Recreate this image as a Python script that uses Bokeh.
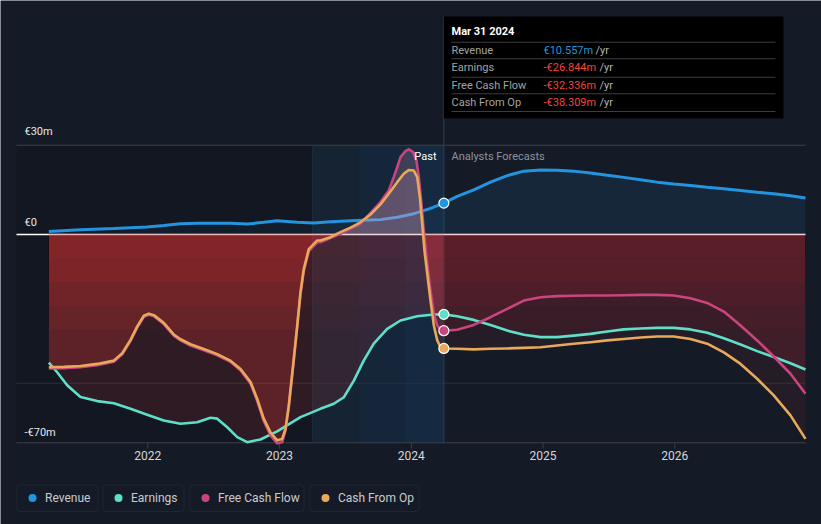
import numpy as np
from bokeh.plotting import figure
from bokeh.models import Label, BoxAnnotation
from bokeh.embed import file_html
from bokeh.resources import INLINE

# ---------------- data (decimal years, EUR millions) ----------------
rev_t = [2021.249, 2021.489, 2021.742, 2021.995, 2022.121, 2022.248, 2022.375, 2022.627,
         2022.754, 2022.880, 2022.982, 2023.134, 2023.260, 2023.386, 2023.589, 2023.766,
         2023.893, 2024.019, 2024.146, 2024.247,
         2024.348, 2024.474, 2024.601, 2024.728, 2024.854, 2024.981, 2025.107, 2025.233,
         2025.360, 2025.487, 2025.613, 2025.740, 2025.866, 2025.992, 2026.119, 2026.246,
         2026.372, 2026.499, 2026.625, 2026.751, 2026.878, 2026.992]
rev_v = [1.0, 1.6, 2.0, 2.5, 3.0, 3.6, 3.8, 3.8, 3.5, 4.1, 4.6, 4.1, 3.9, 4.3, 4.7, 5.0,
         5.8, 7.0, 8.8, 10.557,
         12.8, 15.0, 17.6, 19.8, 21.3, 21.7, 21.6, 21.3, 20.7, 19.9, 19.2, 18.4, 17.6, 17.0,
         16.5, 15.9, 15.4, 14.8, 14.2, 13.7, 13.0, 12.3]

earn_t = [2021.249, 2021.312, 2021.388, 2021.489, 2021.616, 2021.742, 2021.869, 2021.995,
          2022.121, 2022.248, 2022.375, 2022.476, 2022.527, 2022.603, 2022.679, 2022.754,
          2022.855, 2022.982, 2023.159, 2023.310, 2023.412, 2023.488, 2023.564, 2023.639,
          2023.715, 2023.817, 2023.918, 2024.045, 2024.171, 2024.247,
          2024.348, 2024.474, 2024.601, 2024.728, 2024.854, 2024.981, 2025.107, 2025.233,
          2025.360, 2025.487, 2025.613, 2025.740, 2025.866, 2025.992, 2026.119, 2026.246,
          2026.372, 2026.499, 2026.625, 2026.751, 2026.878, 2026.992]
earn_v = [-43.1, -46.3, -50.7, -54.6, -56.0, -56.7, -58.6, -60.6, -62.5, -63.6, -63.1, -61.6,
          -61.9, -64.8, -68.1, -69.8, -68.9, -66.2, -61.4, -58.6, -56.9, -54.7, -49.1, -42.4,
          -36.7, -31.7, -28.9, -27.5, -26.9, -26.844,
          -27.5, -28.7, -30.4, -32.3, -33.7, -34.5, -34.5, -34.0, -33.4, -32.6, -31.9, -31.6,
          -31.4, -31.4, -31.9, -33.0, -34.9, -37.0, -39.2, -41.2, -43.3, -45.4]

fcf_t = [2021.249, 2021.362, 2021.489, 2021.616, 2021.742, 2021.806, 2021.869, 2021.920,
         2021.970, 2022.008, 2022.046, 2022.121, 2022.197, 2022.248, 2022.324, 2022.425,
         2022.527, 2022.627, 2022.704, 2022.780, 2022.830, 2022.880, 2022.931, 2022.982,
         2023.020, 2023.045, 2023.070, 2023.108, 2023.134, 2023.159, 2023.184, 2023.222,
         2023.286, 2023.310, 2023.462, 2023.614, 2023.766, 2023.829, 2023.867, 2023.893,
         2023.918, 2023.956, 2023.981, 2024.014, 2024.039, 2024.057, 2024.075, 2024.095,
         2024.121, 2024.146, 2024.171, 2024.197, 2024.222, 2024.247,
         2024.348, 2024.474, 2024.601, 2024.728, 2024.854, 2024.981, 2025.107, 2025.233,
         2025.360, 2025.487, 2025.613, 2025.740, 2025.866, 2025.992, 2026.119, 2026.246,
         2026.372, 2026.499, 2026.625, 2026.751, 2026.878, 2026.992]
fcf_v = [-45.0, -44.9, -44.6, -43.9, -42.8, -40.3, -35.8, -31.3, -27.7, -27.0, -27.5, -30.1,
         -34.0, -35.6, -37.3, -38.9, -40.6, -42.8, -45.7, -50.2, -55.9, -62.7, -67.5, -70.2,
         -69.8, -66.0, -58.2, -42.5, -31.3, -20.0, -12.3, -5.6, -2.6, -2.6, 0.2, 3.6, 10.9,
         14.8, 19.3, 22.6, 26.0, 28.0, 28.6, 27.7, 24.9, 19.3, 11.4, 1.3, -9.8, -18.8, -26.7,
         -30.6, -32.0, -32.336,
         -32.0, -30.4, -27.8, -25.0, -22.2, -21.1, -20.7, -20.6, -20.5, -20.5, -20.4, -20.3,
         -20.3, -20.5, -21.4, -23.0, -25.9, -30.6, -35.6, -41.0, -46.8, -53.5]

cfo_t = [2021.249, 2021.362, 2021.489, 2021.616, 2021.742, 2021.806, 2021.869, 2021.920,
         2021.970, 2022.008, 2022.046, 2022.121, 2022.197, 2022.248, 2022.324, 2022.425,
         2022.527, 2022.627, 2022.704, 2022.780, 2022.830, 2022.880, 2022.931, 2022.982,
         2023.020, 2023.045, 2023.070, 2023.108, 2023.134, 2023.159, 2023.184, 2023.222,
         2023.286, 2023.310, 2023.386, 2023.462, 2023.538, 2023.614, 2023.690, 2023.766,
         2023.829, 2023.893, 2023.943, 2023.981, 2024.019, 2024.045, 2024.065, 2024.083,
         2024.100, 2024.121, 2024.146, 2024.171, 2024.197, 2024.222, 2024.247,
         2024.348, 2024.474, 2024.601, 2024.728, 2024.854, 2024.981, 2025.107, 2025.233,
         2025.360, 2025.487, 2025.613, 2025.740, 2025.866, 2025.992, 2026.119, 2026.246,
         2026.372, 2026.499, 2026.625, 2026.751, 2026.878, 2026.992]
cfo_v = [-44.6, -44.5, -44.2, -43.5, -42.4, -39.9, -35.4, -30.9, -27.3, -26.6, -27.1, -29.7,
         -33.6, -35.2, -36.9, -38.5, -40.2, -42.4, -45.2, -49.6, -55.2, -61.9, -66.5, -69.2,
         -68.7, -65.3, -57.5, -41.8, -30.6, -19.4, -11.6, -4.9, -2.0, -2.0, -0.9, 0.8, 2.3,
         4.1, 6.7, 10.1, 13.7, 17.6, 20.4, 21.7, 21.5, 19.3, 12.5, 3.6, -5.4, -13.2, -22.2,
         -30.6, -35.6, -37.9, -38.309,
         -38.4, -38.6, -38.4, -38.3, -38.1, -37.9, -37.3, -36.7, -36.2, -35.6, -35.1, -34.6,
         -34.3, -34.3, -35.1, -36.7, -39.6, -43.5, -48.5, -54.1, -60.8, -68.7]

NOW = 2024.247
HIGHLIGHT_START = 2023.25
year_ticks = [2022, 2023, 2024, 2025, 2026]
year_labels = ["2022", "2023", "2024", "2025", "2026"]
y_ticks = [30, 0, -70]
y_labels = ["€30m", "€0", "-€70m"]

tip_title = "Mar 31 2024"
tip_rows = ["Revenue", "Earnings", "Free Cash Flow", "Cash From Op"]
tip_vals = ["€10.557m", "-€26.844m", "-€32.336m", "-€38.309m"]
legend_names = ["Revenue", "Earnings", "Free Cash Flow", "Cash From Op"]

# ---------------- style ----------------
BG = "#151b26"
REV = "#2394df"
EARN = "#5ee0c8"
FCF = "#c9457f"
CFO = "#e8a95b"
RED = "#e13c3c"
POS = "#e8a0c0"
FONT = "Roboto"

W, H = 821, 524
# page pixel -> data helpers
def X(px):
    return 2024 + (px - 410.8) / 131.75

def Y(py):
    return (234 - py) / 2.975

p = figure(width=W, height=H, x_range=(X(0), X(W)), y_range=(Y(H), Y(0)),
           output_backend="svg", toolbar_location=None, min_border=0)
p.axis.visible = False
p.grid.visible = False
p.outline_line_color = None
p.background_fill_color = BG
p.border_fill_color = BG

# background regions
TOP = 30
p.add_layout(BoxAnnotation(left=X(16), right=HIGHLIGHT_START, top=TOP, bottom=-70,
                           fill_color="black", fill_alpha=0.12, line_color=None, level="underlay"))
for lft, a in [(HIGHLIGHT_START, 0.10), (HIGHLIGHT_START + 0.35, 0.06), (HIGHLIGHT_START + 0.7, 0.06)]:
    p.add_layout(BoxAnnotation(left=lft, right=NOW, top=TOP, bottom=-70,
                               fill_color="#1f6aa5", fill_alpha=a, line_color=None, level="underlay"))

# grid lines
p.segment(x0=[X(16)], y0=[30], x1=[X(805)], y1=[30], line_color="#3b414b", line_width=1)
p.segment(x0=[X(16)], y0=[-50], x1=[X(805)], y1=[-50], line_color="#2a3039", line_width=1)
p.segment(x0=[X(16)], y0=[-70], x1=[X(805)], y1=[-70], line_color="#3b414b", line_width=1)
p.segment(x0=[HIGHLIGHT_START], y0=[TOP], x1=[HIGHLIGHT_START], y1=[-70], line_color="#1d2a39", line_width=1)
p.segment(x0=[NOW], y0=[Y(16)], x1=[NOW], y1=[-70], line_color="#2a4057", line_width=1)
for t in year_ticks:
    p.segment(x0=[t], y0=[-70], x1=[t], y1=[Y(448)], line_color="#3b414b", line_width=1)

def split(t, v):
    t = np.asarray(t, float); v = np.asarray(v, float)
    past = t <= NOW + 1e-9
    fut = t >= NOW - 1e-9
    return (t[past], v[past]), (t[fut], v[fut])

# revenue area + line (drawn before the other fills)
rp, rf = split(rev_t, rev_v)
p.varea(x=rp[0], y1=0, y2=rp[1], fill_color=REV, fill_alpha=0.06)
p.varea(x=rf[0], y1=0, y2=rf[1], fill_color=REV, fill_alpha=0.10)
p.line(rev_t, rev_v, line_color=REV, line_width=3)

# zero line
p.segment(x0=[X(16)], y0=[0], x1=[X(805)], y1=[0], line_color="white", line_width=1.6)

def fills(t, v, base, step):
    vn = np.minimum(v, 0)
    p.varea(x=t, y1=vn, y2=0, fill_color=RED, fill_alpha=base)
    for d in [8, 16, 24, 32]:
        p.varea(x=t, y1=np.maximum(vn, -d), y2=0, fill_color=RED, fill_alpha=step)
    vp = np.maximum(v, 0)
    if vp.max() > 0:
        p.varea(x=t, y1=0, y2=vp, fill_color=POS, fill_alpha=0.2)

for tt, vv in [(earn_t, earn_v), (fcf_t, fcf_v), (cfo_t, cfo_v)]:
    pa, fu = split(tt, vv)
    fills(pa[0], pa[1], 0.14, 0.03)
    fills(fu[0], fu[1], 0.075, 0.015)

p.line(earn_t, earn_v, line_color=EARN, line_width=2.6, line_join="round")
p.line(fcf_t, fcf_v, line_color=FCF, line_width=2.6, line_join="round")
p.line(cfo_t, cfo_v, line_color=CFO, line_width=2.6, line_join="round")

# markers at the last reported point
for tt, vv, c in [(rev_t, rev_v, REV), (earn_t, earn_v, EARN), (fcf_t, fcf_v, FCF), (cfo_t, cfo_v, CFO)]:
    i = int(np.argmin(np.abs(np.asarray(tt) - NOW)))
    p.scatter([tt[i]], [vv[i]], size=10, fill_color=c, line_color="white", line_width=1.2)

# y labels
for v, s in zip(y_ticks, y_labels):
    off = {30: 131, 0: 222, -70: 432}[v]
    p.add_layout(Label(x=X(24), y=Y(off), text=s, text_font=FONT, text_font_size="11px",
                       text_color="#e6e6e6", text_baseline="middle"))

# year labels
for t, s in zip(year_ticks, year_labels):
    p.add_layout(Label(x=t, y=Y(455), text=s, text_font=FONT, text_font_size="12px",
                       text_color="#d6d6d6", text_baseline="middle", text_align="center"))

# Past / Analysts Forecasts
p.add_layout(Label(x=X(436), y=Y(156), text="Past", text_font=FONT, text_font_size="11px",
                   text_color="#ffffff", text_baseline="middle", text_align="right"))
p.add_layout(Label(x=X(451), y=Y(156), text="Analysts Forecasts", text_font=FONT, text_font_size="11px",
                   text_color="#8d929a", text_baseline="middle"))

# tooltip box
p.add_layout(BoxAnnotation(left=NOW, right=X(783), top=Y(16), bottom=Y(118),
                           fill_color="black", fill_alpha=1, line_color=None))
p.add_layout(Label(x=X(451), y=Y(31), text=tip_title, text_font=FONT, text_font_size="11px",
                   text_font_style="bold", text_color="white", text_baseline="middle"))
for yy in [41.7, 58.3, 76.7, 93.3, 111]:
    p.add_layout(BoxAnnotation(left=X(451), right=X(775), top=Y(yy - 0.5), bottom=Y(yy + 0.5),
                               fill_color="#3d3d3d", fill_alpha=1, line_color=None))
row_y = [49.5, 66.5, 84.5, 101.5]
yr_x = [595, 599, 599, 599]
for i, (lab, val) in enumerate(zip(tip_rows, tip_vals)):
    p.add_layout(Label(x=X(451), y=Y(row_y[i]), text=lab, text_font=FONT, text_font_size="11px",
                       text_color="#a3a3a3", text_baseline="middle"))
    p.add_layout(Label(x=X(543), y=Y(row_y[i]), text=val, text_font=FONT, text_font_size="11px",
                       text_color=REV if i == 0 else "#f0453f", text_baseline="middle"))
    p.add_layout(Label(x=X(yr_x[i]), y=Y(row_y[i]), text="/yr", text_font=FONT, text_font_size="11px",
                       text_color="#b5b5b5", text_baseline="middle"))

# legend
boxes = [(16, 98), (102, 184), (189, 304), (309, 419)]
colors = [REV, EARN, FCF, CFO]
for (l, r), c, name in zip(boxes, colors, legend_names):
    p.add_layout(BoxAnnotation(left=X(l + 0.5), right=X(r - 0.5), top=Y(484.5), bottom=Y(511),
                               fill_alpha=0, line_color="#3b414b", line_width=1,
                               border_radius=3))
    p.scatter([X(l + 16)], [Y(497.5)], size=8, fill_color=c, line_color=None)
    p.add_layout(Label(x=X(l + 28.5), y=Y(497.5), text=name, text_font=FONT, text_font_size="12px",
                       text_color="#c9cbd0", text_baseline="middle"))

html = file_html(p, INLINE)
html = html.replace("<body>", '<body style="background:%s">' % BG, 1)
open("out.html", "w").write(html)
